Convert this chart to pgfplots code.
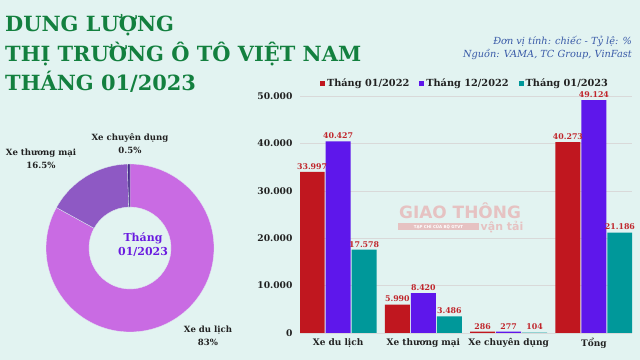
\documentclass[border=0pt]{standalone}
\usepackage{pgfplots}
\pgfplotsset{compat=1.18}
\usepackage{fontspec}
\setmainfont{DejaVu Serif}
\newfontfamily\wmfont{DejaVu Sans}
\definecolor{bgc}{HTML}{E2F3F1}
\definecolor{titlegreen}{HTML}{13803F}
\definecolor{subblue}{HTML}{3A5BA8}
\definecolor{cred}{HTML}{C0171F}
\definecolor{cpurple}{HTML}{5E17EB}
\definecolor{cteal}{HTML}{00989A}
\definecolor{vallab}{HTML}{C0262C}
\definecolor{pie1}{HTML}{C96BE3}
\definecolor{pie2}{HTML}{8E59C4}
\definecolor{pie3}{HTML}{4A2B8C}
\definecolor{centertxt}{HTML}{6A1BE0}
\definecolor{wm}{HTML}{E6C2C2}
\definecolor{dark}{HTML}{222222}
\begin{document}
\begin{tikzpicture}
\fill[bgc] (0,0) rectangle (640bp,360bp);
\path[use as bounding box] (0,0) rectangle (640bp,360bp);
% Title
\node[anchor=base west,inner sep=0,text=titlegreen,font=\fontsize{21}{24}\selectfont\bfseries] at (5bp,328bp) {DUNG LƯỢNG};
\node[anchor=base west,inner sep=0,text=titlegreen,font=\fontsize{21}{24}\selectfont\bfseries] at (5bp,298bp) {THỊ TRƯỜNG Ô TÔ VIỆT NAM};
\node[anchor=base west,inner sep=0,text=titlegreen,font=\fontsize{21}{24}\selectfont\bfseries] at (5bp,269bp) {THÁNG 01/2023};
% Subtitle
\node[anchor=base east,inner sep=0,text=subblue,font=\fontsize{9.8}{11}\selectfont\itshape] at (632bp,315bp) {Đơn vị tính: chiếc - Tỷ lệ: \%};
\node[anchor=base east,inner sep=0,text=subblue,font=\fontsize{9.8}{11}\selectfont\itshape] at (632bp,302bp) {Nguồn: VAMA, TC Group, VinFast};
% Watermark
\node[anchor=center,inner sep=0,text=wm,font=\wmfont\fontsize{17}{18}\selectfont\bfseries] at (460bp,149bp) {GIAO THÔNG};
\fill[wm] (398bp,130bp) rectangle (479bp,137bp);
\node[anchor=center,inner sep=0,text=white,font=\wmfont\fontsize{4}{5}\selectfont\bfseries] at (438.5bp,133.5bp) {TẠP CHÍ CỦA BỘ GTVT};
\node[anchor=center,inner sep=0,text=wm,font=\wmfont\fontsize{11}{12}\selectfont\bfseries] at (502bp,133bp) {vận tải};
% Donut
\begin{scope}[shift={(130bp,112bp)}]
\foreach \p/\c [remember=\e as \s (initially 90)] in {83/pie1,16.5/pie2,0.5/pie3}{
  \pgfmathsetmacro\e{\s-3.6*\p}
  \fill[\c,draw=bgc,line width=0.3pt] (\s:84bp) arc[start angle=\s,end angle=\e,radius=84bp] -- (\e:41bp) arc[start angle=\e,end angle=\s,radius=41bp] -- cycle;
}
\end{scope}
\node[align=center,inner sep=0,text=centertxt,font=\fontsize{11}{14}\selectfont\bfseries] at (143bp,115bp) {Tháng\\01/2023};
\node[align=center,inner sep=0,text=dark,font=\fontsize{8.6}{13}\selectfont\bfseries] at (130bp,216bp) {Xe chuyên dụng\\0.5\%};
\node[align=center,inner sep=0,text=dark,font=\fontsize{8.6}{13}\selectfont\bfseries] at (41bp,201bp) {Xe thương mại\\16.5\%};
\node[align=center,inner sep=0,text=dark,font=\fontsize{8.6}{13}\selectfont\bfseries] at (208bp,24bp) {Xe du lịch\\83\%};
% Bar chart
\begin{axis}[
  at={(300bp,27bp)}, anchor=south west,
  scale only axis, width=332bp, height=237bp,
  ybar=1bp, bar width=25bp,
  xmin=-0.447, xmax=3.447, ymin=0, ymax=50000,
  xtick={0,1,2,3},
  xticklabels={Xe du lịch,Xe thương mại,Xe chuyên dụng,Tổng},
  ytick={0,10000,20000,30000,40000,50000},
  scaled y ticks=false,
  /pgf/number format/.cd, 1000 sep={.}, assume math mode=true, /pgfplots/.cd,
  axis line style={draw=none},
  major tick length=0pt,
  ymajorgrids, grid style={draw=black!15,line width=0.6pt},
  yticklabel style={font=\fontsize{9.2}{10}\selectfont\bfseries,text=dark,xshift=-4bp},
  xticklabel style={font=\fontsize{9}{10}\selectfont\bfseries,text=dark,yshift=-2bp},
  nodes near coords,
  every node near coord/.append style={font=\fontsize{7.9}{9}\selectfont\bfseries,text=vallab,yshift=-1bp},
  legend columns=3,
  legend style={at={(0.497,1)},anchor=south,yshift=4bp,draw=none,fill=none,
    font=\fontsize{9.8}{11}\selectfont\bfseries,text=dark,
    /tikz/every even column/.append style={column sep=8bp}},
]
\addplot[fill=cred,draw=none,legend image code/.code={\fill[cred] (0bp,-2.5bp) rectangle (5bp,2.5bp);}] coordinates {(0,33997) (1,5990) (2,286) (3,40273)};
\addplot[fill=cpurple,draw=none,legend image code/.code={\fill[cpurple] (0bp,-2.5bp) rectangle (5bp,2.5bp);}] coordinates {(0,40427) (1,8420) (2,277) (3,49124)};
\addplot[fill=cteal,draw=none,legend image code/.code={\fill[cteal] (0bp,-2.5bp) rectangle (5bp,2.5bp);}] coordinates {(0,17578) (1,3486) (2,104) (3,21186)};
\legend{Tháng 01/2022,Tháng 12/2022,Tháng 01/2023}
\end{axis}
\end{tikzpicture}
\end{document}
